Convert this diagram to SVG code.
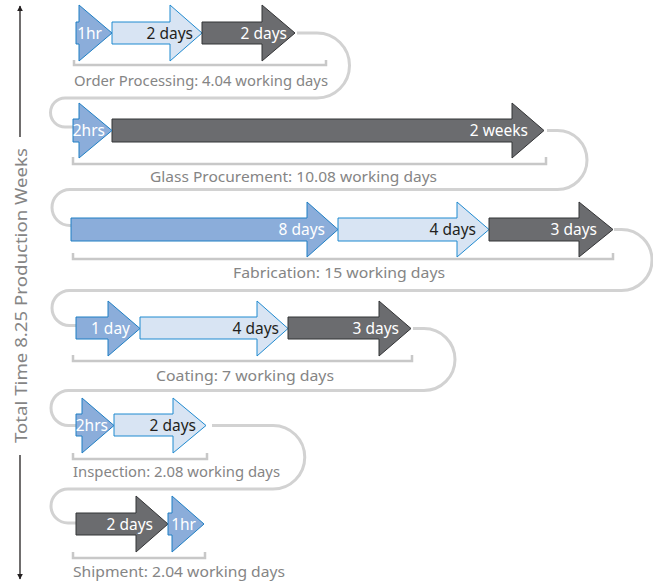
<svg xmlns="http://www.w3.org/2000/svg" width="653" height="585" viewBox="0 0 653 585">
<defs>
<style>
.conn{fill:none;stroke:#d2d2d2;stroke-width:3}
.brk{fill:none;stroke:#c8c8c8;stroke-width:2.5}
.med{fill:#8badda;stroke:#1f7fc4;stroke-width:1}
.lt{fill:#d8e4f3;stroke:#1f8ad0;stroke-width:1}
.dk{fill:#6b6c6f;stroke:#333436;stroke-width:1}
.tw{font-family:"Noto Sans","Open Sans",sans-serif;font-size:15.5px;fill:#ffffff;text-anchor:end}
.td{font-family:"Noto Sans","Open Sans",sans-serif;font-size:15.5px;fill:#231f20;text-anchor:end}
.lbl{font-family:"Noto Sans","Open Sans",sans-serif;font-size:14.5px;fill:#858585}
.axis{stroke:#231f20;stroke-width:1.3;fill:none}
</style>
<marker id="ah" viewBox="0 0 10 10" refX="9" refY="5" markerWidth="6" markerHeight="7" orient="auto" markerUnits="userSpaceOnUse">
<path d="M0,0 L10,5 L0,10 Z" fill="#231f20"/>
</marker>
</defs>
<rect width="653" height="585" fill="#ffffff"/>

<g id="connectors">
<path class="conn" d="M297,33 H317 A32.5,32.5 0 0 1 317,98 H65 A14.5,14.5 0 0 0 65,127 H74"/>
<path class="conn" d="M547,130.5 H557.5 A29.5,29.5 0 0 1 557.5,189.5 H70 A18,18 0 0 0 70,225.5 H74"/>
<path class="conn" d="M614,229.5 H621.5 A30.5,30.5 0 0 1 621.5,290.5 H69.5 A17.5,17.5 0 0 0 69.5,325.5 H77"/>
<path class="conn" d="M413,328.5 H424 A31,31 0 0 1 424,390.5 H68.5 A17.5,17.5 0 0 0 68.5,425.5 H77"/>
<path class="conn" d="M212,425.5 H273 A31.75,31.75 0 0 1 273,489 H68 A17,17 0 0 0 68,523 H77"/>
</g>

<g id="axis">
<line class="axis" x1="20" y1="137" x2="20" y2="6" marker-end="url(#ah)"/>
<line class="axis" x1="20" y1="455" x2="20" y2="579" marker-end="url(#ah)"/>
<text class="lbl" style="font-size:17px" x="0" y="0" text-anchor="middle" textLength="295" lengthAdjust="spacingAndGlyphs" transform="translate(26.5,295.5) rotate(-90)">Total Time 8.25 Production Weeks</text>
</g>

<g id="order-processing">
<polygon class="med" points="76,22 79,22 79,5 112,33 79,61 79,44 76,44"/>
<polygon class="lt" points="112,22 170,22 170,5 202,33 170,61 170,44 112,44"/>
<polygon class="dk" points="202,22 262,22 262,5 295,33 262,61 262,44 202,44"/>
<text class="tw" x="102" y="38.5">1hr</text>
<text class="td" x="193" y="38.5">2 days</text>
<text class="tw" x="287" y="38.5">2 days</text>
<path class="brk" d="M74,60 V65 H326 V60"/>
<text class="lbl" x="74" y="86" textLength="254" lengthAdjust="spacingAndGlyphs">Order Processing: 4.04 working days</text>
</g>

<g id="glass-procurement">
<polygon class="dk" points="112,119 512,119 512,103 544,130.5 512,158 512,142 112,142"/>
<polygon class="med" points="73,119 79,119 79,103 112,130.5 79,158 79,142 73,142"/>
<text class="tw" x="105" y="136">2hrs</text>
<text class="tw" x="528" y="136">2 weeks</text>
<path class="brk" d="M73,157 V164 H546 V157"/>
<text class="lbl" x="150" y="182" textLength="287" lengthAdjust="spacingAndGlyphs">Glass Procurement: 10.08 working days</text>
</g>

<g id="fabrication">
<polygon class="med" points="71,218 307,218 307,202 338,229.5 307,257 307,241 71,241"/>
<polygon class="lt" points="338,218 457,218 457,202 489,229.5 457,257 457,241 338,241"/>
<polygon class="dk" points="489,218 579,218 579,202 613,229.5 579,257 579,241 489,241"/>
<text class="tw" x="325" y="235">8 days</text>
<text class="td" x="476" y="235">4 days</text>
<text class="tw" x="597" y="235">3 days</text>
<path class="brk" d="M73,253 V259 H613 V253"/>
<text class="lbl" x="233" y="278" textLength="212" lengthAdjust="spacingAndGlyphs">Fabrication: 15 working days</text>
</g>

<g id="coating">
<polygon class="med" points="76,317 108,317 108,301 140,328.5 108,356 108,339 76,339"/>
<polygon class="lt" points="140,317 257,317 257,301 288,328.5 257,356 257,339 140,339"/>
<polygon class="dk" points="288,317 379,317 379,301 411,328.5 379,356 379,339 288,339"/>
<text class="tw" x="130" y="334">1 day</text>
<text class="td" x="279" y="334">4 days</text>
<text class="tw" x="399" y="334">3 days</text>
<path class="brk" d="M73,355 V361 H412 V355"/>
<text class="lbl" x="156" y="381" textLength="178" lengthAdjust="spacingAndGlyphs">Coating: 7 working days</text>
</g>

<g id="inspection">
<polygon class="med" points="76,414 82,414 82,398 114,425.5 82,453 82,436 76,436"/>
<polygon class="lt" points="114,414 173,414 173,398 206,425.5 173,453 173,436 114,436"/>
<text class="tw" x="108" y="431">2hrs</text>
<text class="td" x="196" y="431">2 days</text>
<path class="brk" d="M73,453 V459 H207 V453"/>
<text class="lbl" x="73" y="477" textLength="207" lengthAdjust="spacingAndGlyphs">Inspection: 2.08 working days</text>
</g>

<g id="shipment">
<polygon class="dk" points="76,513 136,513 136,496 168,524 136,552 136,535 76,535"/>
<polygon class="med" points="168,513 172,513 172,496 204,524 172,552 172,535 168,535"/>
<text class="tw" x="153" y="529.5">2 days</text>
<text class="tw" x="196" y="529.5">1hr</text>
<path class="brk" d="M73,552 V558 H205 V552"/>
<text class="lbl" x="73" y="577" textLength="212" lengthAdjust="spacingAndGlyphs">Shipment: 2.04 working days</text>
</g>
</svg>
